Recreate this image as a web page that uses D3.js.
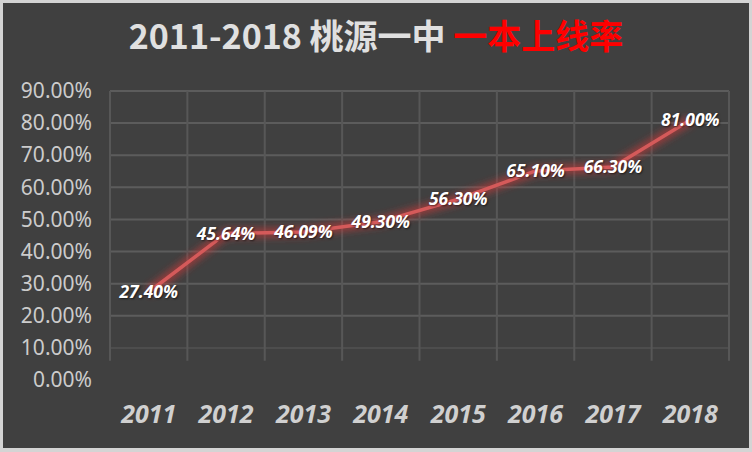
<html>
<head>
<meta charset="utf-8">
<script src="https://d3js.org/d3.v7.min.js"></script>
<style>
  body { margin: 0; background: #d9d9d9; }
  svg { display: block; }
</style>
</head>
<body>
<div id="chart"></div>
<script>
// data
var years = ["2011", "2012", "2013", "2014", "2015", "2016", "2017", "2018"];
var rates = [0.274, 0.4564, 0.4609, 0.493, 0.563, 0.651, 0.663, 0.81];
var yTicks = [0, 0.1, 0.2, 0.3, 0.4, 0.5, 0.6, 0.7, 0.8, 0.9];
var titleGrey = "2011-2018 桃源一中 ";
var titleRed = "一本上线率";

var width = 752, height = 452;

var svg = d3.select("#chart").append("svg")
  .attr("width", width)
  .attr("height", height);

// glow for the line
var defs = svg.append("defs");
defs.append("filter").attr("id", "glow")
  .attr("x", "-10%").attr("y", "-30%").attr("width", "120%").attr("height", "160%")
  .append("feGaussianBlur").attr("stdDeviation", 3.5);

// background + light frame
svg.append("rect")
  .attr("x", 0).attr("y", 0).attr("width", width).attr("height", height)
  .attr("fill", "#d4d4d4");
svg.append("rect")
  .attr("x", 3).attr("y", 3).attr("width", width - 6).attr("height", height - 7)
  .attr("fill", "#404040");

// scales
var x = d3.scaleBand().domain(years).range([110, 729]);
var y = d3.scaleLinear().domain([0, 0.9]).range([380, 91]);

// grid
var grid = svg.append("g");
grid.selectAll("line.h").data(yTicks.filter(function(d){ return d > 0; }))
  .enter().append("line")
  .attr("class", "h")
  .attr("x1", 110).attr("x2", 729)
  .attr("y1", function(d){ return y(d); })
  .attr("y2", function(d){ return y(d); })
  .attr("stroke", function(d){ return d < 0.15 ? "#4d4d4d" : "#5c5c5c"; })
  .attr("stroke-width", 2);

var bounds = years.map(function(d){ return x(d); }).concat([x.range()[1]]);
grid.selectAll("line.v").data(bounds)
  .enter().append("line")
  .attr("class", "v")
  .attr("x1", function(d){ return d; }).attr("x2", function(d){ return d; })
  .attr("y1", y(0.9)).attr("y2", y(0.06))
  .attr("stroke", "#575757")
  .attr("stroke-width", 2);

// y axis labels
var yAxis = svg.append("g")
  .attr("transform", "translate(110,0)")
  .call(d3.axisLeft(y).tickValues(yTicks).tickFormat(d3.format(".2%")).tickSize(0).tickPadding(18));
yAxis.select(".domain").remove();
yAxis.selectAll("text")
  .attr("fill", "#cccccc")
  .style("font-family", "'Noto Sans', sans-serif")
  .style("font-size", "21px");

// x axis labels
var xAxis = svg.append("g")
  .attr("transform", "translate(0,380)")
  .call(d3.axisBottom(x).tickSize(0).tickPadding(25));
xAxis.select(".domain").remove();
xAxis.selectAll("text")
  .attr("fill", "#d0d0d0")
  .style("font-family", "'Noto Sans', sans-serif")
  .style("font-size", "25px")
  .style("font-weight", "bold")
  .style("font-style", "italic");

// line
var line = d3.line()
  .x(function(d, i){ return x(years[i]) + x.bandwidth() / 2; })
  .y(function(d){ return y(d); });

svg.append("path")
  .datum(rates)
  .attr("d", line)
  .attr("fill", "none")
  .attr("stroke", "#c0393b")
  .attr("stroke-width", 10)
  .attr("stroke-opacity", 0.65)
  .attr("filter", "url(#glow)");

svg.append("path")
  .datum(rates)
  .attr("d", line)
  .attr("fill", "none")
  .attr("stroke", "#d45a5a")
  .attr("stroke-width", 3.5)
  .attr("stroke-linejoin", "round");

// data labels centred on the points
svg.append("g").selectAll("text").data(rates)
  .enter().append("text")
  .attr("x", function(d, i){ return x(years[i]) + x.bandwidth() / 2; })
  .attr("y", function(d){ return y(d); })
  .attr("dy", "0.35em")
  .attr("text-anchor", "middle")
  .attr("fill", "#ffffff")
  .style("font-family", "'Noto Sans', sans-serif")
  .style("font-size", "17.5px")
  .style("font-weight", "bold")
  .style("font-style", "italic")
  .style("text-shadow", "1px 1px 2px rgba(0,0,0,0.6)")
  .text(function(d){ return d3.format(".2%")(d); });

// title
var title = svg.append("text")
  .attr("x", 376)
  .attr("y", 49)
  .attr("text-anchor", "middle")
  .style("font-family", "'Noto Sans CJK SC', 'Noto Sans', sans-serif")
  .style("font-size", "34px")
  .style("font-weight", "bold");
title.append("tspan").attr("fill", "#e0e0e0").text(titleGrey);
title.append("tspan").attr("fill", "#ff0000").text(titleRed);
</script>
</body>
</html>
